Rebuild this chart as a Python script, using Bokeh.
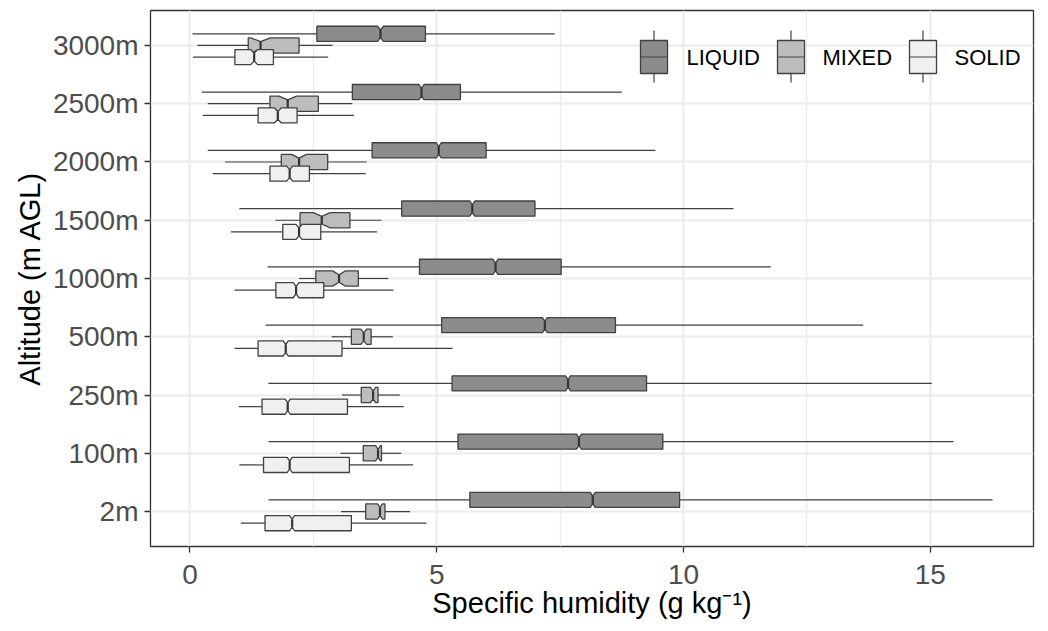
from bokeh.plotting import figure
from bokeh.models import FixedTicker, Range1d
from bokeh.core.properties import value
from bokeh.embed import file_html
from bokeh.resources import INLINE

# ---------------- data ----------------
altitudes = ["2m", "100m", "250m", "500m", "1000m", "1500m", "2000m", "2500m", "3000m"]
phases = ["LIQUID", "MIXED", "SOLID"]

liquid_lo = [1.59, 1.59, 1.59, 1.53, 1.57, 1.00, 0.36, 0.24, 0.05]
liquid_q1 = [5.67, 5.43, 5.31, 5.10, 4.65, 4.29, 3.69, 3.29, 2.57]
liquid_med = [8.16, 7.88, 7.66, 7.19, 6.19, 5.72, 5.04, 4.69, 3.86]
liquid_q3 = [9.92, 9.58, 9.25, 8.62, 7.52, 6.99, 6.00, 5.48, 4.77]
liquid_hi = [16.26, 15.47, 15.03, 13.64, 11.77, 11.01, 9.43, 8.75, 7.39]
liquid_notch = [0.05, 0.05, 0.05, 0.05, 0.05, 0.05, 0.05, 0.05, 0.06]

mixed_lo = [3.06, 3.05, 3.08, 2.87, 2.21, 1.73, 0.71, 0.36, 0.15]
mixed_q1 = [3.56, 3.51, 3.47, 3.27, 2.55, 2.23, 1.85, 1.62, 1.18]
mixed_med = [3.85, 3.81, 3.71, 3.52, 3.02, 2.67, 2.21, 1.98, 1.43]
mixed_q3 = [3.95, 3.88, 3.81, 3.67, 3.41, 3.24, 2.79, 2.60, 2.21]
mixed_hi = [4.46, 4.28, 4.25, 4.11, 4.02, 3.88, 3.58, 3.29, 2.89]
mixed_notch = [0.05, 0.05, 0.05, 0.06, 0.13, 0.17, 0.15, 0.18, 0.20]

solid_lo = [1.03, 1.00, 0.99, 0.90, 0.90, 0.83, 0.46, 0.26, 0.06]
solid_q1 = [1.52, 1.49, 1.46, 1.38, 1.74, 1.88, 1.62, 1.38, 0.91]
solid_med = [2.07, 2.02, 1.98, 1.94, 2.15, 2.21, 2.02, 1.78, 1.30]
solid_q3 = [3.27, 3.23, 3.19, 3.08, 2.71, 2.65, 2.42, 2.17, 1.69]
solid_hi = [4.79, 4.52, 4.33, 5.32, 4.12, 3.79, 3.56, 3.32, 2.80]
solid_notch = [0.05, 0.05, 0.05, 0.05, 0.06, 0.06, 0.06, 0.07, 0.07]

x_ticks = [0, 5, 10, 15]
x_minor = [2.5, 7.5, 12.5, 17.5]

# ---------------- styling ----------------
FILLS = {"LIQUID": "#8c8c8c", "MIXED": "#bdbdbd", "SOLID": "#f0f0f0"}
OFFSETS = {"LIQUID": 0.2, "MIXED": 0.0, "SOLID": -0.2}
HALF_H = 0.13
EDGE = "#404040"
FONT = "Liberation Sans"

X0, X1 = -0.80, 17.09
Y0, Y1 = 0.4, 9.6

W, H = 1048, 631
p = figure(width=W, height=H, x_range=Range1d(X0, X1), y_range=Range1d(Y0, Y1),
           output_backend="svg", toolbar_location=None,
           min_border_left=150, min_border_right=15, min_border_top=10, min_border_bottom=85)
p.background_fill_color = "white"
p.border_fill_color = "white"
p.outline_line_color = "#333333"
p.outline_line_width = 1.3

p.xaxis.ticker = FixedTicker(ticks=x_ticks, minor_ticks=x_minor)
p.yaxis.ticker = FixedTicker(ticks=list(range(1, len(altitudes) + 1)))
p.yaxis.major_label_overrides = {i + 1: a for i, a in enumerate(altitudes)}
p.xaxis.major_label_overrides = {t: str(t) for t in x_ticks}

for ax in (p.xaxis, p.yaxis):
    ax.axis_line_color = None
    ax.major_tick_line_color = "#333333"
    ax.major_tick_line_width = 1.3
    ax.major_tick_out = 6
    ax.major_tick_in = 0
    ax.minor_tick_line_color = None
    ax.major_label_text_font = FONT
    ax.major_label_text_font_size = "28px"
    ax.major_label_text_color = "#4d4d4d"
    ax.axis_label_text_font = FONT
    ax.axis_label_text_font_size = "29px"
    ax.axis_label_text_font_style = "normal"
    ax.axis_label_text_color = "black"

p.xaxis.axis_label = "Specific humidity (g kg\u207b\u00b9)"
p.yaxis.axis_label = "Altitude (m AGL)"
p.xaxis.major_label_standoff = 12
p.yaxis.major_label_standoff = 6
p.xaxis.axis_label_standoff = 0
p.yaxis.axis_label_standoff = 4

p.xgrid.grid_line_color = "#ebebeb"
p.xgrid.grid_line_width = 2
p.xgrid.minor_grid_line_color = "#ebebeb"
p.xgrid.minor_grid_line_width = 1.3
p.ygrid.grid_line_color = "#ebebeb"
p.ygrid.grid_line_width = 2

series = {
    "LIQUID": (liquid_lo, liquid_q1, liquid_med, liquid_q3, liquid_hi, liquid_notch),
    "MIXED": (mixed_lo, mixed_q1, mixed_med, mixed_q3, mixed_hi, mixed_notch),
    "SOLID": (solid_lo, solid_q1, solid_med, solid_q3, solid_hi, solid_notch),
}

for ph in phases:
    lo, q1, med, q3, hi, nd = series[ph]
    ys = [i + 1 + OFFSETS[ph] for i in range(len(altitudes))]
    # whiskers
    p.segment(x0=lo, y0=ys, x1=q1, y1=ys, line_color=EDGE, line_width=1.2)
    p.segment(x0=q3, y0=ys, x1=hi, y1=ys, line_color=EDGE, line_width=1.2)
    # notched boxes
    xs_all, ys_all = [], []
    for b, m, c, d, y in zip(q1, med, q3, nd, ys):
        nlo, nhi = m - d, m + d
        xs_all.append([b, nlo, m, nhi, c, c, nhi, m, nlo, b])
        ys_all.append([y - HALF_H, y - HALF_H, y - HALF_H / 2, y - HALF_H, y - HALF_H,
                       y + HALF_H, y + HALF_H, y + HALF_H / 2, y + HALF_H, y + HALF_H])
    p.patches(xs=xs_all, ys=ys_all, fill_color=FILLS[ph], line_color=EDGE, line_width=1.3)
    # median
    p.segment(x0=med, y0=[y - HALF_H / 2 for y in ys], x1=med, y1=[y + HALF_H / 2 for y in ys],
              line_color="#333333", line_width=2.2)

# ---------------- legend (drawn inside panel, top right) ----------------
def dx(px):
    return X0 + (px - 150) / 883 * (X1 - X0)

def dy(py):
    return Y1 - (py - 10) / 536 * (Y1 - Y0)

key_left = [640, 777, 909]
key_w = 27
text_left = [686, 822, 954]
for ph, kl, tl in zip(phases, key_left, text_left):
    cx = dx(kl + key_w / 2)
    p.segment(x0=[cx], y0=[dy(30)], x1=[cx], y1=[dy(82)], line_color=EDGE, line_width=1.2)
    p.quad(left=[dx(kl)], right=[dx(kl + key_w)], top=[dy(40)], bottom=[dy(73)],
           fill_color=FILLS[ph], line_color=EDGE, line_width=1.3)
    p.segment(x0=[dx(kl)], y0=[dy(56.5)], x1=[dx(kl + key_w)], y1=[dy(56.5)],
              line_color="#404040", line_width=1.2)
    p.text(x=[dx(tl)], y=[dy(57)], text=[ph], text_font=value(FONT), text_font_size="22px",
           text_baseline="middle", text_align="left", text_color="black")

open("out.html", "w").write(file_html(p, INLINE))
